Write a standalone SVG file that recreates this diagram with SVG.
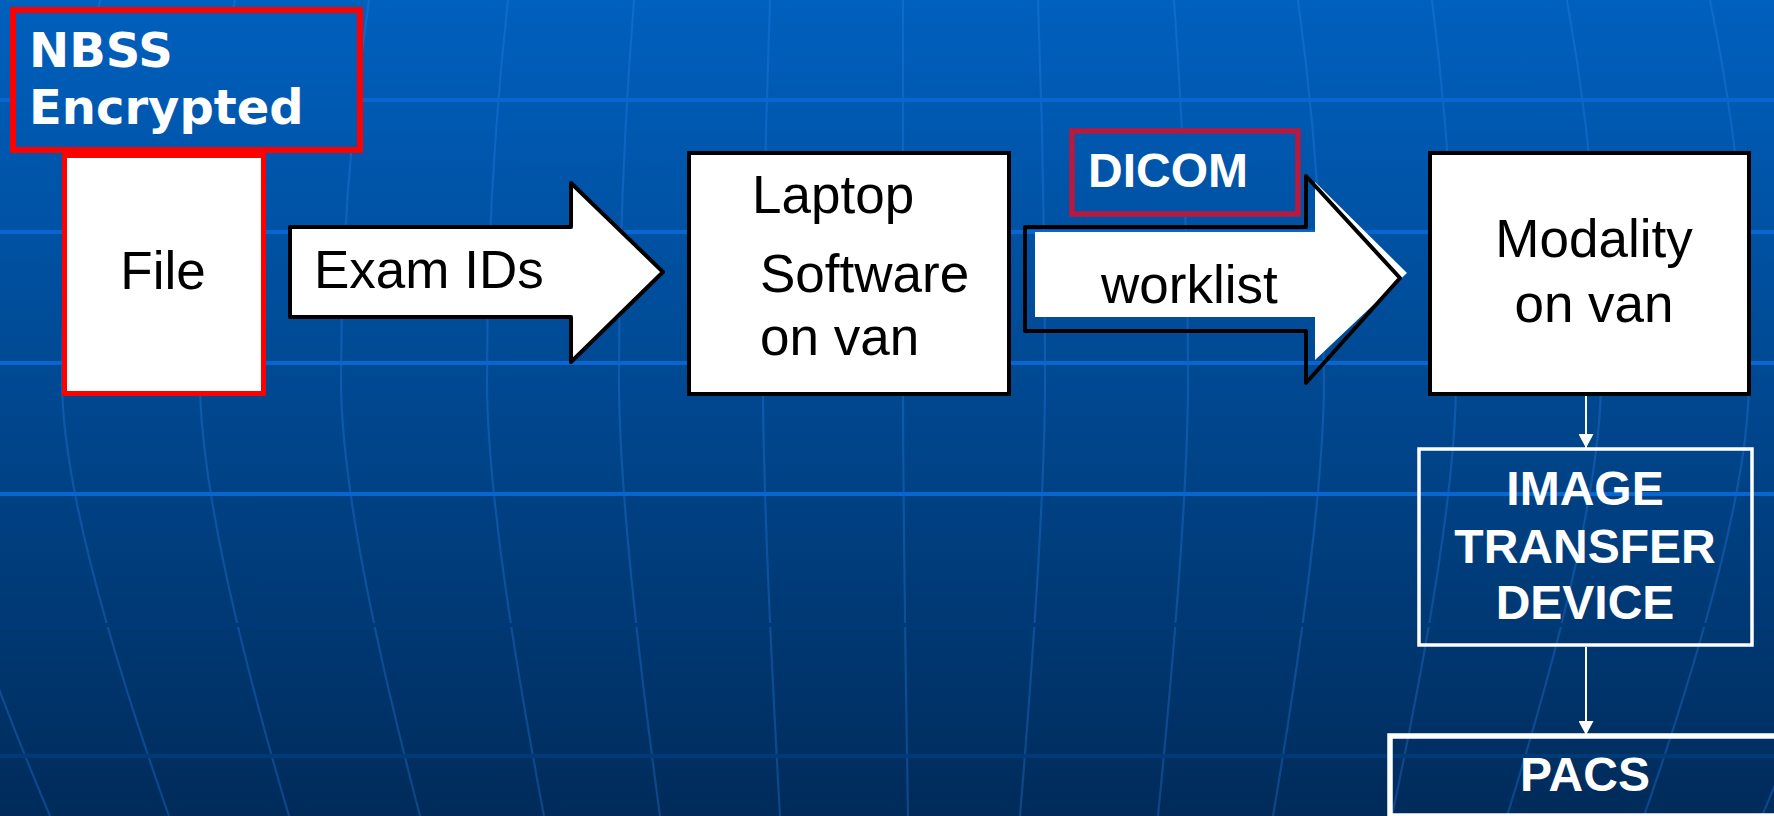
<svg xmlns="http://www.w3.org/2000/svg" width="1774" height="816" viewBox="0 0 1774 816">
  <defs>
    <linearGradient id="bg" gradientUnits="userSpaceOnUse" x1="0" y1="0" x2="0" y2="816">
      <stop offset="0" stop-color="#0060BE"/>
      <stop offset="0.5" stop-color="#00478F"/>
      <stop offset="1" stop-color="#002B5A"/>
    </linearGradient>
    <marker id="ah" viewBox="0 0 14 15" refX="14" refY="7.5" markerWidth="14" markerHeight="15" markerUnits="userSpaceOnUse" orient="auto">
      <path d="M0,0 L14,7.5 L0,15 Z" fill="#FFFFFF"/>
    </marker>
    <style>
      .hl { stroke: #0866D0; stroke-width: 4; fill: none; }
      .vl { stroke: #2F86F0; stroke-opacity: 0.3; stroke-width: 2.2; fill: none; }
      .box { fill: #FFFFFF; stroke: #000000; stroke-width: 4; }
      .blk { font-family: "Liberation Sans", Arial, sans-serif; font-size: 53px; fill: #000000; }
      .wb { font-family: "Liberation Sans", Arial, sans-serif; font-weight: bold; font-size: 48px; fill: #FFFFFF; }
      .conn { stroke: #FFFFFF; stroke-width: 2; fill: none; }
    </style>
  </defs>

  <g id="background">
    <rect x="0" y="0" width="1774" height="816" fill="url(#bg)"/>
    <g id="meridians">
      <path class="vl" d="M-57,0 Q-78,190 -78,380 Q-78,514 50,816"/>
      <path class="vl" d="M100,0 Q62,190 62,380 Q62,514 169,816"/>
      <path class="vl" d="M235,0 Q200,190 200,380 Q200,514 289,816"/>
      <path class="vl" d="M369,0 Q341,190 341,380 Q341,514 420,816"/>
      <path class="vl" d="M508,0 Q487,190 487,380 Q487,514 544,816"/>
      <path class="vl" d="M634,0 Q619,190 619,380 Q619,514 660,816"/>
      <path class="vl" d="M770,0 Q763,190 763,380 Q763,514 780,816"/>
      <path class="vl" d="M903,0 Q903,190 903,380 Q903,514 908,816"/>
      <path class="vl" d="M1038,0 Q1045,190 1045,380 Q1045,514 1020,816"/>
      <path class="vl" d="M1174,0 Q1188,190 1188,380 Q1188,514 1158,816"/>
      <path class="vl" d="M1298,0 Q1324,190 1324,380 Q1324,514 1273,816"/>
      <path class="vl" d="M1432,0 Q1456,190 1456,380 Q1456,514 1392,816"/>
      <path class="vl" d="M1567,0 Q1601,190 1601,380 Q1601,514 1507,816"/>
      <path class="vl" d="M1710,0 Q1749,190 1749,380 Q1749,514 1644,816"/>
      <path class="vl" d="M1840,0 Q1890,190 1890,380 Q1890,514 1762,816"/>
    </g>
    <g id="parallels">
      <line class="hl" x1="0" y1="100" x2="1774" y2="100"/>
      <line class="hl" x1="0" y1="232" x2="1774" y2="232"/>
      <line class="hl" x1="0" y1="363" x2="1774" y2="363"/>
      <line class="hl" x1="0" y1="494" x2="1774" y2="494"/>
      <line x1="0" y1="625" x2="1774" y2="625" stroke="#00397A" stroke-width="4"/>
      <line x1="0" y1="756" x2="1774" y2="756" stroke="#003A79" stroke-width="4"/>
    </g>
  </g>

  <g id="connectors">
    <line class="conn" x1="1586" y1="395" x2="1586" y2="448" marker-end="url(#ah)"/>
    <line class="conn" x1="1586" y1="647" x2="1586" y2="735" marker-end="url(#ah)"/>
  </g>

  <g id="file">
    <rect x="64.5" y="155.5" width="199" height="238" fill="#FFFFFF" stroke="#FF0000" stroke-width="5"/>
    <text class="blk" x="163" y="289" text-anchor="middle">File</text>
  </g>

  <g id="nbss">
    <rect x="13" y="10" width="347" height="140" fill="url(#bg)" stroke="#FF0000" stroke-width="6"/>
    <text x="29" y="67" font-family="DejaVu Sans, Verdana, sans-serif" font-weight="bold" font-size="48" fill="#FFFFFF">NBSS</text>
    <text x="29" y="124" font-family="DejaVu Sans, Verdana, sans-serif" font-weight="bold" font-size="48" fill="#FFFFFF">Encrypted</text>
  </g>

  <g id="exam-ids">
    <polygon points="290,227 571,227 571,183 663,272 571,362 571,317 290,317" fill="#FFFFFF" stroke="#000000" stroke-width="4" stroke-linejoin="round"/>
    <text class="blk" x="314" y="288" font-size="52">Exam IDs</text>
  </g>

  <g id="laptop">
    <rect class="box" x="689" y="153" width="320" height="241"/>
    <text class="blk" x="752" y="213">Laptop</text>
    <text class="blk" x="760" y="292">Software</text>
    <text class="blk" x="760" y="355">on van</text>
  </g>

  <g id="dicom">
    <rect x="1072" y="131" width="226" height="83" fill="url(#bg)" stroke="#B8193F" stroke-width="5.5"/>
    <text class="wb" x="1088" y="187" font-size="47">DICOM</text>
  </g>

  <g id="worklist">
    <polygon points="1035,232 1315,232 1315,182 1407,273 1315,360 1315,317 1035,317" fill="#FFFFFF"/>
    <polygon points="1025,227 1306,227 1306,176 1400,278 1306,383 1306,331 1025,331" fill="none" stroke="#000000" stroke-width="4" stroke-linejoin="round"/>
    <text class="blk" x="1101" y="303">worklist</text>
  </g>

  <g id="modality">
    <rect class="box" x="1430" y="153" width="319" height="241"/>
    <text class="blk" x="1594" y="257" text-anchor="middle">Modality</text>
    <text class="blk" x="1594" y="322" text-anchor="middle">on van</text>
  </g>

  <g id="image-transfer-device">
    <rect x="1419" y="449" width="333" height="196" fill="none" stroke="#FFFFFF" stroke-width="3.5"/>
    <text class="wb" x="1585" y="505" text-anchor="middle">IMAGE</text>
    <text class="wb" x="1585" y="563" text-anchor="middle">TRANSFER</text>
    <text class="wb" x="1585" y="619" text-anchor="middle">DEVICE</text>
  </g>

  <g id="pacs">
    <rect x="1390" y="736" width="420" height="80" fill="none" stroke="#FFFFFF" stroke-width="5.5"/>
    <text class="wb" x="1585" y="791" text-anchor="middle">PACS</text>
  </g>
</svg>
